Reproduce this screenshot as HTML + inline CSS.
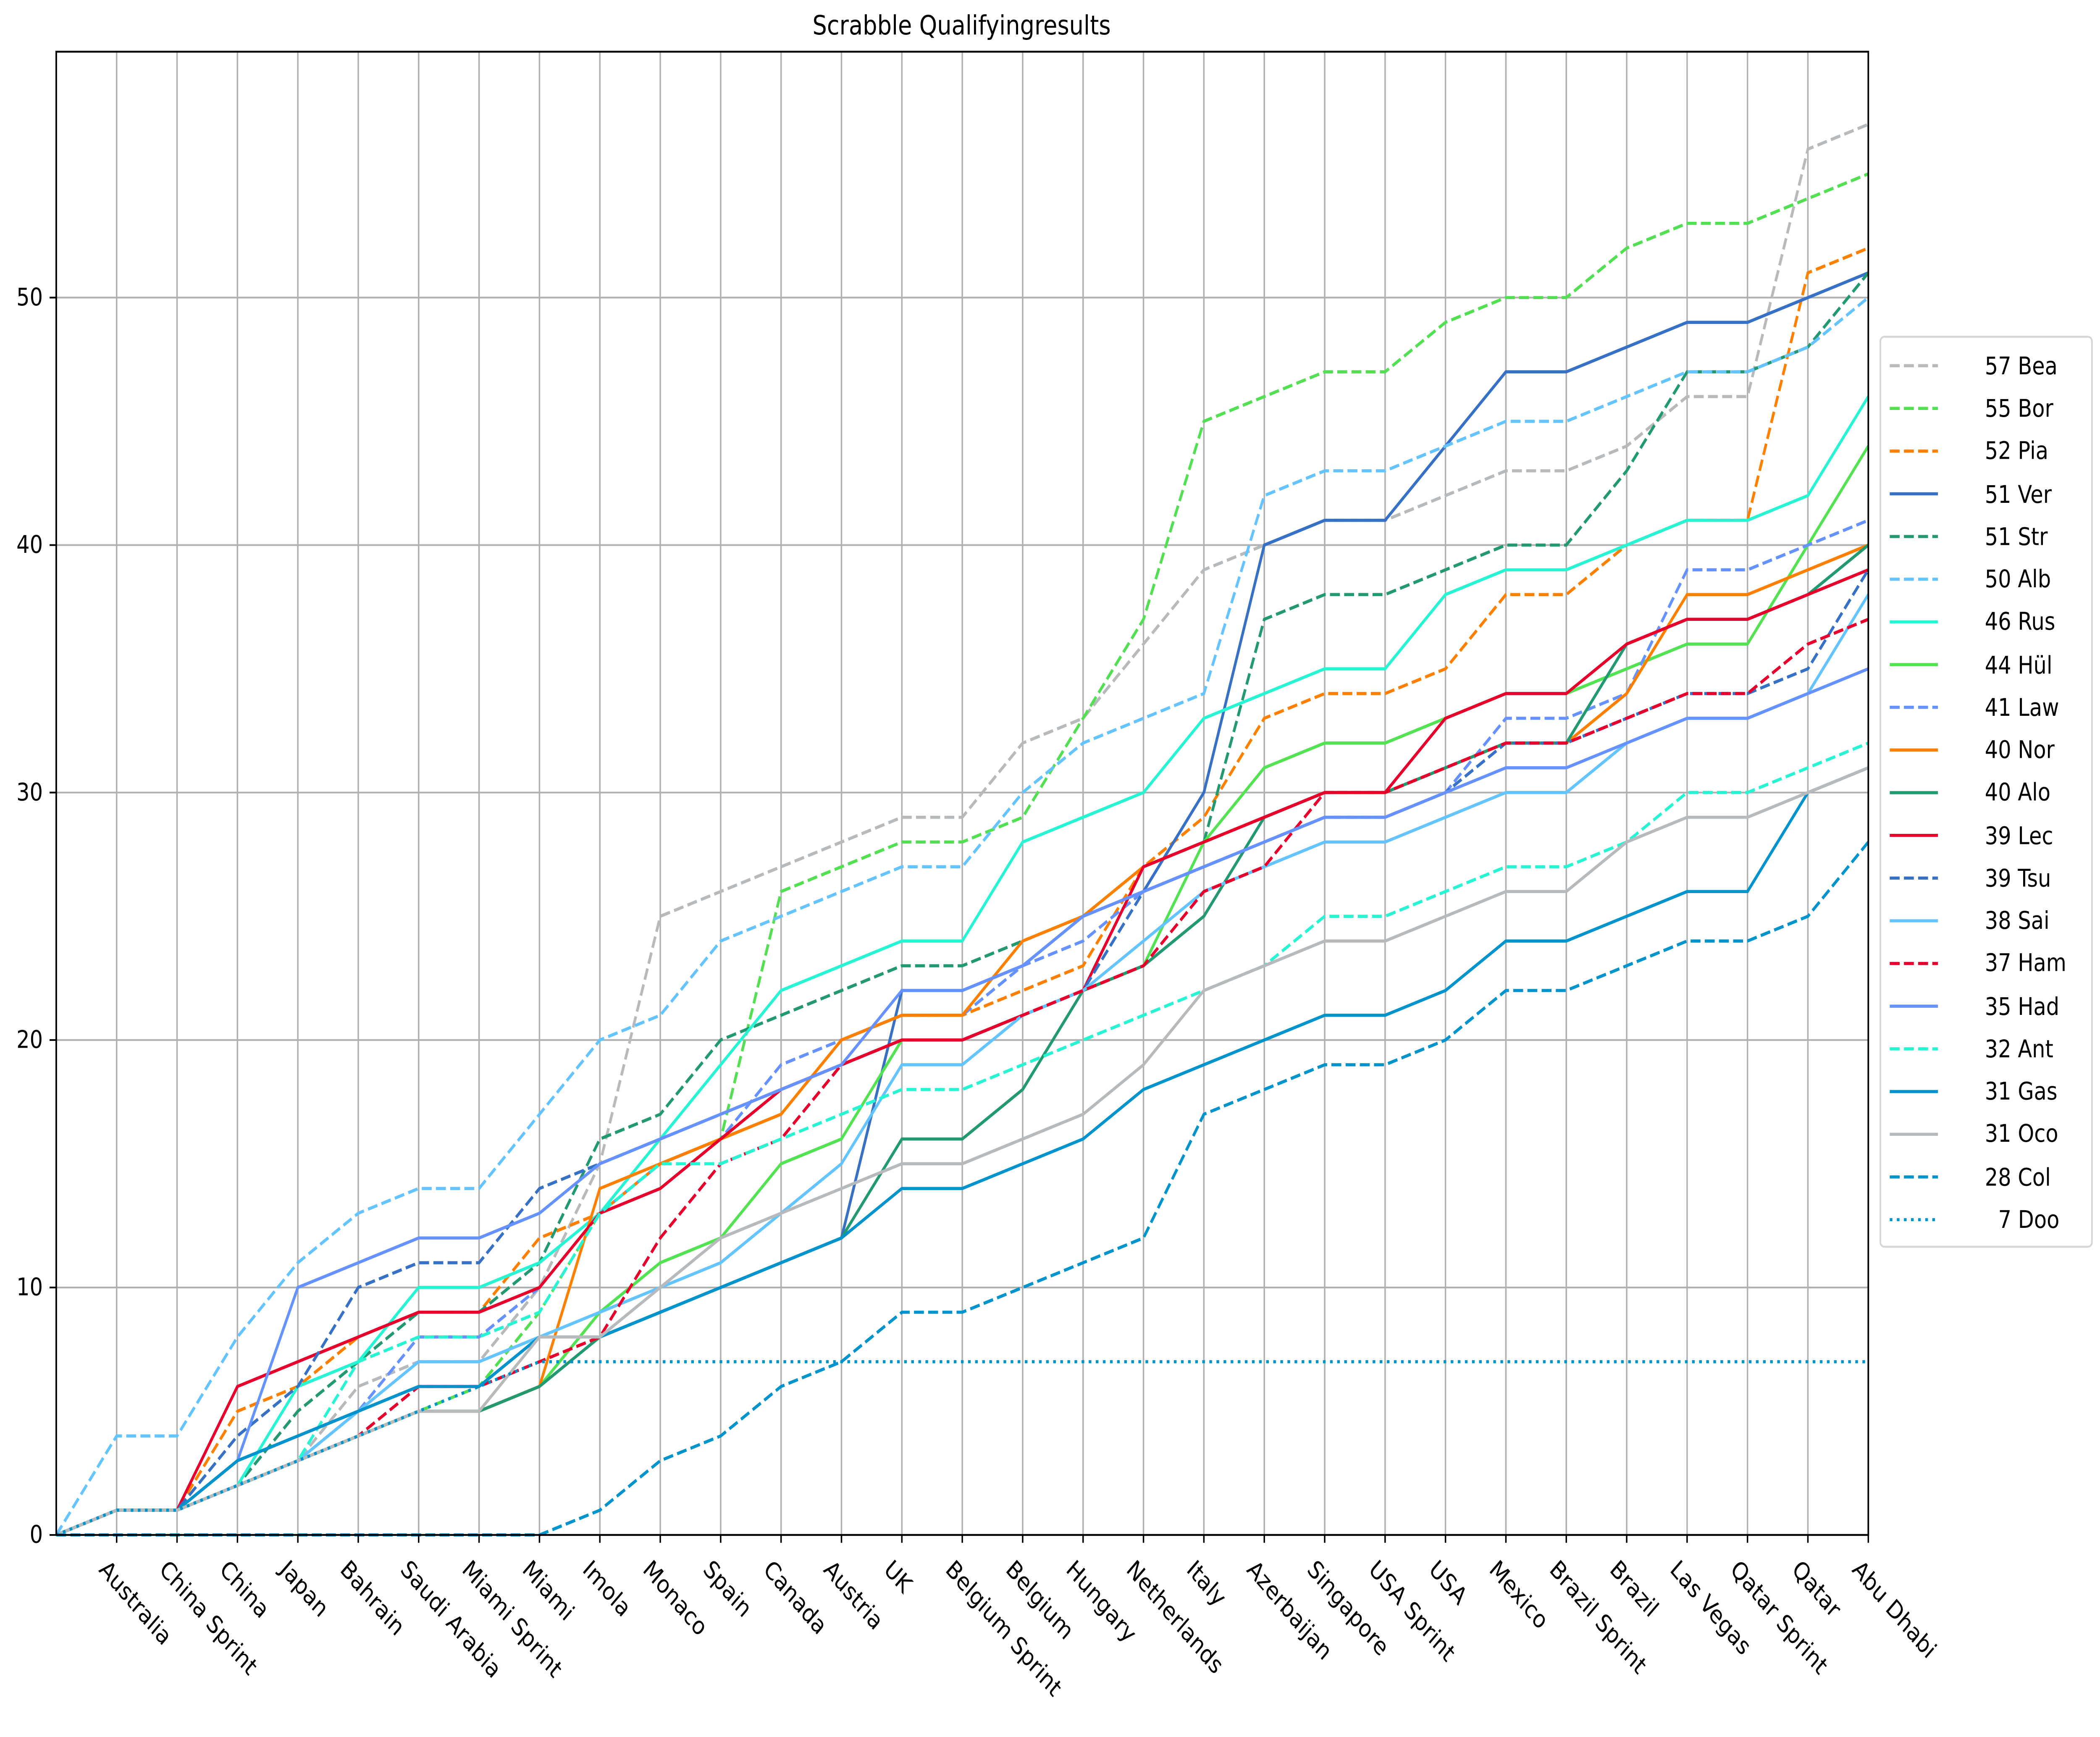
<!DOCTYPE html>
<html><head><meta charset="utf-8">
<style>html,body{margin:0;padding:0;background:#fff;overflow:hidden;width:100vw;height:100vh;}svg{display:block;width:100vw;height:100vh;}text{font-family:"DejaVu Sans","Liberation Sans",sans-serif;}</style>
</head><body>
<svg id="s" xmlns="http://www.w3.org/2000/svg" viewBox="0 0 1568 1109" preserveAspectRatio="none">
<rect width="1568" height="1109" fill="#fff"/>
<g id="grid" stroke="#b0b0b0" stroke-width="1.1"></g>
<g id="lines" fill="none" stroke-width="2"></g>
<rect x="42" y="33" width="1353" height="947" fill="none" stroke="#000" stroke-width="1.2"/>
<g id="ticks" stroke="#000" stroke-width="1.1"></g>
<text x="718" y="22" font-size="17" text-anchor="middle">Scrabble Qualifyingresults</text>
<g font-size="15.5" text-anchor="end">
<text x="32" y="985">0</text><text x="32" y="827">10</text><text x="32" y="669">20</text><text x="32" y="511">30</text><text x="32" y="353">40</text><text x="32" y="195">50</text>
</g>
<g font-size="15.5">
<text transform="translate(81,995) rotate(45)" dy="11">Australia</text>
<text transform="translate(126,995) rotate(45)" dy="11">China Sprint</text>
<text transform="translate(171,995) rotate(45)" dy="11">China</text>
<text transform="translate(216,995) rotate(45)" dy="11">Japan</text>
<text transform="translate(261,995) rotate(45)" dy="11">Bahrain</text>
<text transform="translate(306,995) rotate(45)" dy="11">Saudi Arabia</text>
<text transform="translate(352,995) rotate(45)" dy="11">Miami Sprint</text>
<text transform="translate(397,995) rotate(45)" dy="11">Miami</text>
<text transform="translate(442,995) rotate(45)" dy="11">Imola</text>
<text transform="translate(487,995) rotate(45)" dy="11">Monaco</text>
<text transform="translate(532,995) rotate(45)" dy="11">Spain</text>
<text transform="translate(577,995) rotate(45)" dy="11">Canada</text>
<text transform="translate(622,995) rotate(45)" dy="11">Austria</text>
<text transform="translate(667,995) rotate(45)" dy="11">UK</text>
<text transform="translate(713,995) rotate(45)" dy="11">Belgium Sprint</text>
<text transform="translate(758,995) rotate(45)" dy="11">Belgium</text>
<text transform="translate(803,995) rotate(45)" dy="11">Hungary</text>
<text transform="translate(848,995) rotate(45)" dy="11">Netherlands</text>
<text transform="translate(893,995) rotate(45)" dy="11">Italy</text>
<text transform="translate(938,995) rotate(45)" dy="11">Azerbaijan</text>
<text transform="translate(983,995) rotate(45)" dy="11">Singapore</text>
<text transform="translate(1029,995) rotate(45)" dy="11">USA Sprint</text>
<text transform="translate(1074,995) rotate(45)" dy="11">USA</text>
<text transform="translate(1119,995) rotate(45)" dy="11">Mexico</text>
<text transform="translate(1164,995) rotate(45)" dy="11">Brazil Sprint</text>
<text transform="translate(1209,995) rotate(45)" dy="11">Brazil</text>
<text transform="translate(1254,995) rotate(45)" dy="11">Las Vegas</text>
<text transform="translate(1299,995) rotate(45)" dy="11">Qatar Sprint</text>
<text transform="translate(1345,995) rotate(45)" dy="11">Qatar</text>
<text transform="translate(1390,995) rotate(45)" dy="11">Abu Dhabi</text>
</g>
<rect x="1404" y="215" width="158" height="581" rx="3" fill="#fff" stroke="#d5d5d5" stroke-width="1.2"/>
<g id="leg" fill="none" stroke-width="2"></g>
<g font-size="15.5">
<text x="1482" y="239">57 Bea</text><text x="1482" y="266">55 Bor</text><text x="1482" y="293">52 Pia</text><text x="1482" y="321">51 Ver</text><text x="1482" y="348">51 Str</text><text x="1482" y="375">50 Alb</text><text x="1482" y="402">46 Rus</text><text x="1482" y="430">44 Hül</text><text x="1482" y="457">41 Law</text><text x="1482" y="484">40 Nor</text><text x="1482" y="511">40 Alo</text><text x="1482" y="539">39 Lec</text><text x="1482" y="566">39 Tsu</text><text x="1482" y="593">38 Sai</text><text x="1482" y="620">37 Ham</text><text x="1482" y="648">35 Had</text><text x="1482" y="675">32 Ant</text><text x="1482" y="702">31 Gas</text><text x="1482" y="729">31 Oco</text><text x="1482" y="757">28 Col</text><text x="1492" y="784">7 Doo</text>
</g>
</svg>
<script>
var NS="http://www.w3.org/2000/svg";
function X(i){return 42+i*1353/30;}function Y(v){return 980-v*15.8;}
function el(p,t,a){var e=document.createElementNS(NS,t);for(var k in a)e.setAttribute(k,a[k]);document.getElementById(p).appendChild(e);return e;}
for(var i=1;i<30;i++)el("grid","line",{x1:X(i),x2:X(i),y1:33,y2:980});
for(var v=10;v<=50;v+=10)el("grid","line",{x1:42,x2:1395,y1:Y(v),y2:Y(v)});
for(var i=1;i<=30;i++)el("ticks","line",{x1:X(i),x2:X(i),y1:980,y2:985});
for(var v=0;v<=50;v+=10)el("ticks","line",{x1:37,x2:42,y1:Y(v),y2:Y(v)});
var D="7.4,3.2",P="2,3.3";
var S=[
["#b6babd",D,[0,1,1,2,3,6,7,7,10,15,25,26,27,28,29,29,32,33,36,39,40,41,41,42,43,43,44,46,46,56,57]],
["#52e052",D,[0,1,1,2,3,4,5,6,9,13,15,16,26,27,28,28,29,33,37,45,46,47,47,49,50,50,52,53,53,54,55]],
["#ff8000",D,[0,1,1,5,6,8,9,9,12,13,15,16,17,20,21,21,22,23,27,29,33,34,34,35,38,38,40,41,41,51,52]],
["#3671c6","",[0,1,1,3,4,5,6,6,8,8,9,10,11,12,22,22,23,25,26,30,40,41,41,44,47,47,48,49,49,50,51]],
["#229971",D,[0,1,1,2,5,7,9,9,11,16,17,20,21,22,23,23,24,25,27,28,37,38,38,39,40,40,43,47,47,48,51]],
["#64c4ff",D,[0,4,4,8,11,13,14,14,17,20,21,24,25,26,27,27,30,32,33,34,42,43,43,44,45,45,46,47,47,48,50]],
["#27f4d2","",[0,1,1,2,6,7,10,10,11,13,16,19,22,23,24,24,28,29,30,33,34,35,35,38,39,39,40,41,41,42,46]],
["#52e252","",[0,1,1,2,3,4,5,5,6,9,11,12,15,16,20,20,21,22,23,28,31,32,32,33,34,34,35,36,36,40,44]],
["#6692ff",D,[0,1,1,2,3,5,8,8,10,13,15,16,19,20,21,21,23,24,26,27,28,29,29,30,33,33,34,39,39,40,41]],
["#ff8000","",[0,1,1,2,3,4,5,5,6,14,15,16,17,20,21,21,24,25,27,28,29,30,30,31,32,32,34,38,38,39,40]],
["#229971","",[0,1,1,2,3,4,5,5,6,8,9,10,11,12,16,16,18,22,23,25,29,30,30,31,32,32,36,37,37,38,40]],
["#e8002d","",[0,1,1,6,7,8,9,9,10,13,14,16,18,19,20,20,21,22,27,28,29,30,30,33,34,34,36,37,37,38,39]],
["#3671c6",D,[0,1,1,4,6,10,11,11,14,15,16,17,18,19,20,20,21,22,26,27,28,29,29,30,32,32,33,34,34,35,39]],
["#64c4ff","",[0,1,1,2,3,5,7,7,8,9,10,11,13,15,19,19,21,22,24,26,27,28,28,29,30,30,32,33,33,34,38]],
["#e8002d",D,[0,1,1,2,3,4,6,6,7,8,12,15,16,19,20,20,21,22,23,26,27,30,30,31,32,32,33,34,34,36,37]],
["#6692ff","",[0,1,1,3,10,11,12,12,13,15,16,17,18,19,22,22,23,25,26,27,28,29,29,30,31,31,32,33,33,34,35]],
["#27f4d2",D,[0,1,1,2,3,7,8,8,9,13,15,15,16,17,18,18,19,20,21,22,23,25,25,26,27,27,28,30,30,31,32]],
["#0093cc","",[0,1,1,3,4,5,6,6,8,8,9,10,11,12,14,14,15,16,18,19,20,21,21,22,24,24,25,26,26,30,31]],
["#b6babd","",[0,1,1,2,3,4,5,5,8,8,10,12,13,14,15,15,16,17,19,22,23,24,24,25,26,26,28,29,29,30,31]],
["#0093cc",D,[0,0,0,0,0,0,0,0,0,1,3,4,6,7,9,9,10,11,12,17,18,19,19,20,22,22,23,24,24,25,28]],
["#0093cc",P,[0,1,1,2,3,4,5,6,7,7,7,7,7,7,7,7,7,7,7,7,7,7,7,7,7,7,7,7,7,7,7]]
];
S.forEach(function(s,k){
 var pts=s[2].map(function(v,i){return X(i)+","+Y(v);}).join(" ");
 var a={points:pts,stroke:s[0]};if(s[1])a["stroke-dasharray"]=s[1];
 el("lines","polyline",a);
 var y=233.5+k*27.26;var b={x1:1411,x2:1447,y1:y,y2:y,stroke:s[0]};if(s[1])b["stroke-dasharray"]=s[1];
 el("leg","line",b);
});
</script>
</body></html>
